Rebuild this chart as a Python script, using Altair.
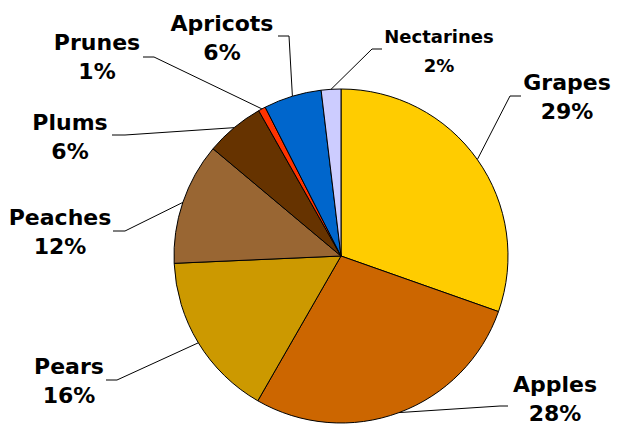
import altair as alt
import pandas as pd
import numpy as np

# ---- data ----
FRUITS = ["Grapes", "Apples", "Pears", "Peaches", "Plums", "Prunes", "Apricots", "Nectarines"]
SHARES = [30.4, 27.9, 16.0, 11.8, 5.7, 0.7, 5.6, 1.9]          # slice sizes (angle share, %)
PCT_LABELS = ["29%", "28%", "16%", "12%", "6%", "1%", "6%", "2%"]  # printed labels
COLORS = ["#FFCC00", "#CC6600", "#CC9900", "#996633", "#663300", "#FF3300", "#0066CC", "#CCCCFF"]

# ---- layout (pixels from pie centre, y pointing up) ----
W, H = 603, 419
CX, CY = 333, 248
R = 167
LABEL_POS = {
    "Grapes": (226, 160), "Apples": (214, -142), "Pears": (-272, -124),
    "Peaches": (-281, 25), "Plums": (-271, 120), "Prunes": (-244, 200),
    "Apricots": (-119, 219), "Nectarines": (98, 205),
}
ELBOW = {
    "Grapes": (169, 160), "Apples": (159, -150), "Pears": (-224, -124),
    "Peaches": (-216, 25), "Plums": (-216, 121), "Prunes": (-187, 199),
    "Apricots": (-52, 220), "Nectarines": (31, 207),
}
LEADER_END = {
    "Grapes": (180, 160), "Apples": (167, -150), "Pears": (-235, -124),
    "Peaches": (-228, 25), "Plums": (-229, 121), "Prunes": (-198, 199),
    "Apricots": (-63, 220), "Nectarines": (41, 207),
}
FONT_SIZE = {"Nectarines": 18}
DEFAULT_SIZE = 22
LINE_H = 29

shares = np.array(SHARES, dtype=float)
deg = shares / shares.sum() * 360.0
mid = np.cumsum(deg) - deg / 2.0

slices = pd.DataFrame({"fruit": FRUITS, "value": SHARES, "idx": range(len(FRUITS))})

rows = []
for i, f in enumerate(FRUITS):
    m = np.deg2rad(mid[i])
    pts = [(R * np.sin(m), R * np.cos(m)), ELBOW[f], LEADER_END[f]]
    for k, (px, py) in enumerate(pts):
        rows.append({"fruit": f, "k": k, "x": float(px), "y": float(py)})
leaders = pd.DataFrame(rows)

labels = pd.DataFrame({
    "fruit": FRUITS,
    "label": [f"{f}\n{p}" for f, p in zip(FRUITS, PCT_LABELS)],
    "x": [LABEL_POS[f][0] for f in FRUITS],
    "y": [LABEL_POS[f][1] for f in FRUITS],
    "size": [FONT_SIZE.get(f, DEFAULT_SIZE) for f in FRUITS],
})

xs = alt.Scale(domain=[-CX, W - CX], nice=False, zero=False)
ys = alt.Scale(domain=[-(H - CY), CY], nice=False, zero=False)

pie = alt.Chart(slices).mark_arc(radius=R, stroke="black", strokeWidth=1).encode(
    theta=alt.Theta("value:Q", stack=True),
    color=alt.Color("fruit:N", scale=alt.Scale(domain=FRUITS, range=COLORS), legend=None),
    order=alt.Order("idx:Q"),
    x=alt.value(CX),
    y=alt.value(CY),
)

lines = alt.Chart(leaders).mark_line(color="black", strokeWidth=1).encode(
    x=alt.X("x:Q", scale=xs, axis=None),
    y=alt.Y("y:Q", scale=ys, axis=None),
    detail="fruit:N",
    order="k:Q",
)

text = alt.Chart(labels).mark_text(
    font="DejaVu Sans", fontWeight="bold",
    lineBreak="\n", lineHeight=LINE_H,
    align="center", baseline="middle", color="black", dy=-LINE_H / 2 + 1,
).encode(
    x=alt.X("x:Q", scale=xs, axis=None),
    y=alt.Y("y:Q", scale=ys, axis=None),
    text="label:N",
    size=alt.Size("size:Q", scale=None, legend=None),
)

chart = alt.layer(pie, lines, text).properties(
    width=W, height=H, padding=0, background="white",
    autosize=alt.AutoSizeParams(type="none"),
).configure_view(stroke=None)

chart.save("out.html", embed_options={"renderer": "svg", "actions": False})
